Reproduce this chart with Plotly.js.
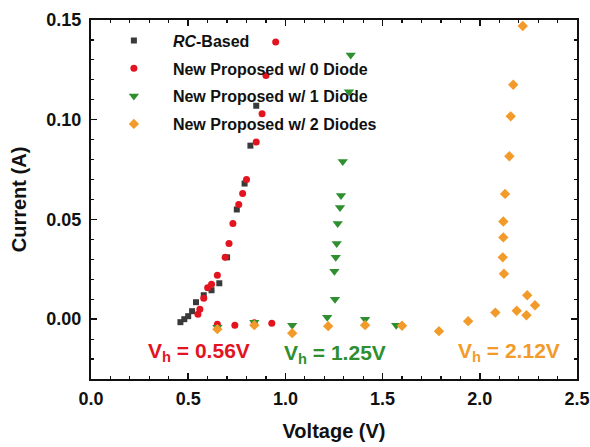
<!DOCTYPE html>
<html>
<head>
<meta charset="utf-8">
<script src="https://cdn.plot.ly/plotly-3.0.1.min.js"></script>
<style>html,body{margin:0;padding:0;background:#fff;}#chart{width:590px;height:447px;}</style>
</head>
<body>
<div id="chart"></div>
<script>
// RC-Based
const rcV = [0.46, 0.48, 0.50, 0.52, 0.54, 0.58, 0.62, 0.66, 0.70, 0.75, 0.79, 0.82, 0.85];
const rcI = [-0.0015, 0.000, 0.0015, 0.004, 0.0085, 0.012, 0.0145, 0.018, 0.031, 0.055, 0.068, 0.087, 0.107];
// New Proposed w/ 0 Diode
const d0V = [0.65, 0.74, 0.84, 0.93, 0.55, 0.56, 0.58, 0.60, 0.62, 0.65, 0.69, 0.71, 0.73, 0.76, 0.78, 0.80, 0.85, 0.88, 0.90, 0.95];
const d0I = [-0.0025, -0.003, -0.0018, -0.002, 0.0025, 0.005, 0.0105, 0.0158, 0.0175, 0.022, 0.031, 0.038, 0.048, 0.0575, 0.063, 0.070, 0.0888, 0.103, 0.1222, 0.139];
// New Proposed w/ 1 Diode
const d1V = [0.65, 0.84, 1.035, 1.215, 1.41, 1.57, 1.255, 1.252, 1.259, 1.264, 1.269, 1.281, 1.286, 1.295, 1.327, 1.336];
const d1I = [-0.004, -0.0015, -0.003, 0.001, 0.0, -0.003, 0.010, 0.024, 0.031, 0.038, 0.048, 0.056, 0.062, 0.079, 0.114, 0.1325];
// New Proposed w/ 2 Diodes
const d2V = [0.65, 0.84, 1.035, 1.22, 1.41, 1.60, 1.79, 1.94, 2.08, 2.19, 2.24, 2.284, 2.244, 2.124, 2.118, 2.121, 2.121, 2.13, 2.152, 2.159, 2.172, 2.221];
const d2I = [-0.005, -0.003, -0.007, -0.0035, -0.003, -0.0033, -0.006, -0.001, 0.0033, 0.0042, 0.002, 0.007, 0.012, 0.0228, 0.031, 0.041, 0.049, 0.0628, 0.0817, 0.1017, 0.1175, 0.147];

const names = ['<i>RC</i>-Based', 'New Proposed w/ 0 Diode', 'New Proposed w/ 1 Diode', 'New Proposed w/ 2 Diodes'];
const colors = ['#3a3a3a', '#e3141f', '#2f8f2f', '#f29b2b'];

const labels = [
  {v: 0.556, i: -0.0165, t: 'V<sub>h</sub> = 0.56V', c: colors[1]},
  {v: 1.255, i: -0.0175, t: 'V<sub>h</sub> = 1.25V', c: colors[2]},
  {v: 2.15, i: -0.0165, t: 'V<sub>h</sub> = 2.12V', c: colors[3]}
];

const mk = (x, y, k, sym, size) => ({
  x: x, y: y, type: 'scatter', mode: 'markers', name: names[k],
  legendgroup: 'g' + k,
  marker: {color: colors[k], symbol: sym, size: size}
});

const traces = [
  mk(rcV, rcI, 0, 'square', 6),
  mk(d0V, d0I, 1, 'circle', 7),
  mk(d1V, d1I, 2, 'triangle-down', 9),
  mk(d2V, d2I, 3, 'diamond', 8)
];

const FAM = 'Liberation Sans, Arial, sans-serif';
const tickFont = {family: FAM, size: 18, color: '#111', weight: 'bold'};
const titleFont = {family: FAM, size: 20, color: '#111', weight: 'bold'};

const layout = {
  width: 590, height: 447,
  margin: {l: 91, r: 13, t: 20, b: 68},
  paper_bgcolor: '#fff', plot_bgcolor: '#fff',
  font: {family: FAM, color: '#111'},
  showlegend: true,
  legend: {
    x: 0.008, y: 0.99, xanchor: 'left', yanchor: 'top',
    bgcolor: 'rgba(0,0,0,0)',
    font: {family: FAM, size: 16, color: '#111', weight: 'bold'},
    itemwidth: 68,
    traceorder: 'grouped',
    tracegroupgap: 4
  },
  xaxis: {
    range: [0, 2.5], dtick: 0.5, tick0: 0, tickformat: '.1f',
    ticks: 'inside', ticklen: 6, tickwidth: 1.5, tickcolor: '#111',
    minor: {dtick: 0.1, ticks: 'inside', ticklen: 3, tickwidth: 1.2, tickcolor: '#111'},
    showline: true, linecolor: '#111', linewidth: 2, mirror: 'allticks',
    showgrid: false, zeroline: false,
    tickfont: tickFont, ticklabelstandoff: 2,
    title: {text: 'Voltage (V)', font: titleFont, standoff: 16}
  },
  yaxis: {
    range: [-0.03, 0.15], dtick: 0.05, tick0: 0, tickformat: '.2f',
    ticks: 'inside', ticklen: 6, tickwidth: 1.5, tickcolor: '#111',
    minor: {dtick: 0.01, ticks: 'inside', ticklen: 3, tickwidth: 1.2, tickcolor: '#111'},
    showline: true, linecolor: '#111', linewidth: 2, mirror: 'allticks',
    showgrid: false, zeroline: false,
    tickfont: tickFont, ticklabelstandoff: 4,
    title: {text: 'Current (A)', font: titleFont, standoff: 14}
  },
  annotations: labels.map(a => ({
    x: a.v, y: a.i, xref: 'x', yref: 'y', text: '<b>' + a.t + '</b>', showarrow: false,
    font: {family: FAM, size: 21, color: a.c}
  }))
};

Plotly.newPlot('chart', traces, layout, {displayModeBar: false, staticPlot: true});
</script>
</body>
</html>
